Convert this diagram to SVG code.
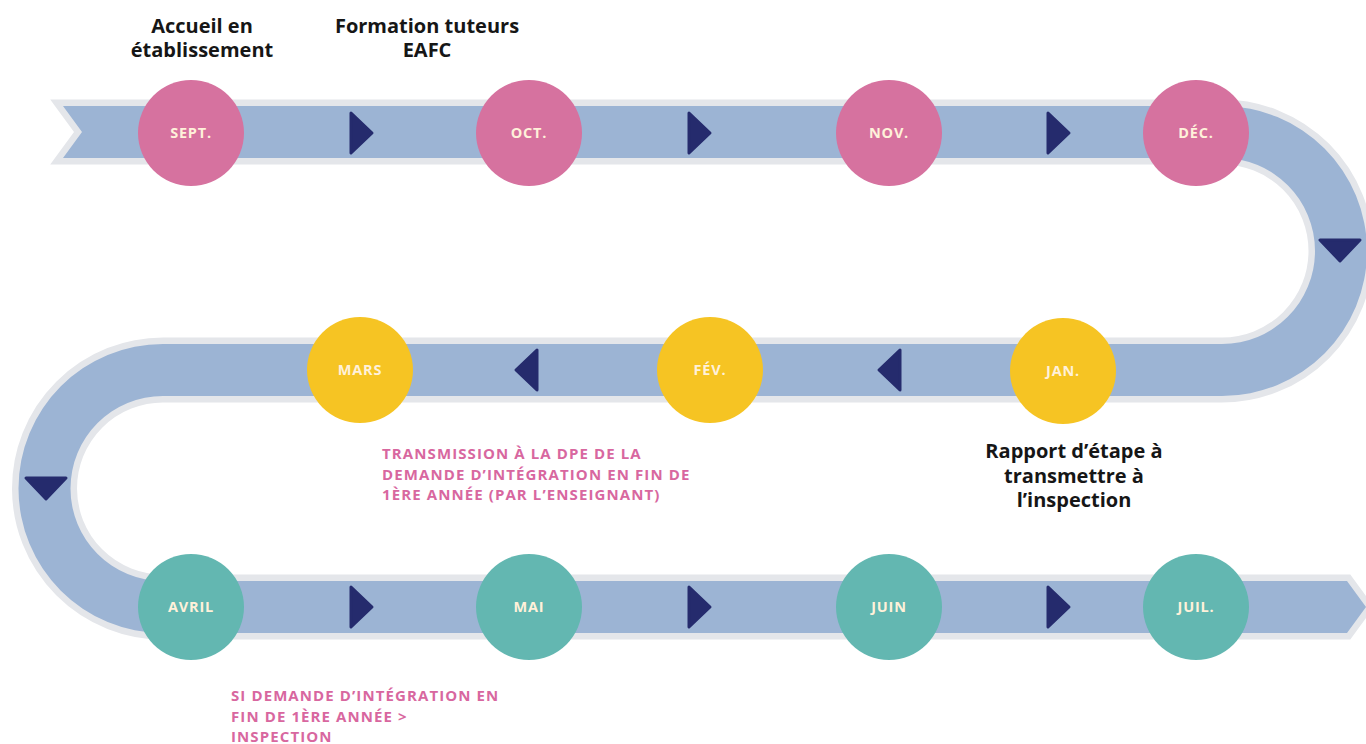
<svg xmlns="http://www.w3.org/2000/svg" xmlns:xlink="http://www.w3.org/1999/xlink" width="1366" height="744" viewBox="0 0 1366 744">
<defs>
<style>
.band{fill:#9CB4D4;stroke:#E4E6EA;stroke-width:13;stroke-linejoin:miter;paint-order:stroke}
.tri{fill:#252B6D;stroke:#252B6D;stroke-width:3;stroke-linejoin:round}
.pink{fill:#D6729F}.yellow{fill:#F6C423}.teal{fill:#63B7B1}
.m{font-family:"Open Sans","Liberation Sans",sans-serif;font-weight:700;font-size:14.5px;letter-spacing:0.8px;fill:#FFF1DA;text-anchor:middle}
.lbl{font-family:"Open Sans","Liberation Sans",sans-serif;font-weight:700;font-size:20px;fill:#161616;text-anchor:middle}
.note{font-family:"Open Sans","Liberation Sans",sans-serif;font-weight:700;font-size:15px;letter-spacing:1.1px;fill:#D8679F}
</style>
<path id="tri" class="tri" d="M-10,-20 L11,0 L-10,20 Z"/>
</defs>
<rect width="1366" height="744" fill="#FFFFFF"/>
<g id="connectors">
<path id="band" class="band" d="M63,106 L1222,106 A145,145 0 0 1 1222,396 L163,396 A92.5,92.5 0 0 0 163,581 L1347,581 L1366,607 L1347,633 L163,633 A144.5,144.5 0 0 1 163,344 L1222,344 A93,93 0 0 0 1222,158 L63,158 L82,132 Z"/>
<use xlink:href="#tri" href="#tri" transform="translate(361,133)"/>
<use xlink:href="#tri" href="#tri" transform="translate(699,133)"/>
<use xlink:href="#tri" href="#tri" transform="translate(1058,133)"/>
<use xlink:href="#tri" href="#tri" transform="translate(1340,250) rotate(90)"/>
<use xlink:href="#tri" href="#tri" transform="translate(890,370) rotate(180)"/>
<use xlink:href="#tri" href="#tri" transform="translate(527,370) rotate(180)"/>
<use xlink:href="#tri" href="#tri" transform="translate(46,488) rotate(90)"/>
<use xlink:href="#tri" href="#tri" transform="translate(361,607)"/>
<use xlink:href="#tri" href="#tri" transform="translate(699,607)"/>
<use xlink:href="#tri" href="#tri" transform="translate(1058,607)"/>
</g>
<g id="sept"><circle class="pink" cx="191" cy="133" r="53"/><text class="m" x="191" y="138">SEPT.</text></g>
<g id="oct"><circle class="pink" cx="529" cy="133" r="53"/><text class="m" x="529" y="138">OCT.</text></g>
<g id="nov"><circle class="pink" cx="889" cy="133" r="53"/><text class="m" x="889" y="138">NOV.</text></g>
<g id="dec"><circle class="pink" cx="1196" cy="133" r="53"/><text class="m" x="1196" y="138">DÉC.</text></g>
<g id="jan"><circle class="yellow" cx="1063" cy="371" r="53"/><text class="m" x="1063" y="376">JAN.</text></g>
<g id="fev"><circle class="yellow" cx="710" cy="370" r="53"/><text class="m" x="710" y="375">FÉV.</text></g>
<g id="mars"><circle class="yellow" cx="360" cy="370" r="53"/><text class="m" x="360" y="375">MARS</text></g>
<g id="avril"><circle class="teal" cx="191" cy="607" r="53"/><text class="m" x="191" y="612">AVRIL</text></g>
<g id="mai"><circle class="teal" cx="529" cy="607" r="53"/><text class="m" x="529" y="612">MAI</text></g>
<g id="juin"><circle class="teal" cx="889" cy="607" r="53"/><text class="m" x="889" y="612">JUIN</text></g>
<g id="juil"><circle class="teal" cx="1196" cy="607" r="53"/><text class="m" x="1196" y="612">JUIL.</text></g>
<g id="label-accueil"><text class="lbl" x="202" y="32.5">Accueil en</text><text class="lbl" x="202" y="57">établissement</text></g>
<g id="label-formation"><text class="lbl" x="427" y="32.5">Formation tuteurs</text><text class="lbl" x="427" y="57">EAFC</text></g>
<g id="label-rapport"><text class="lbl" x="1074" y="458">Rapport d’étape à</text><text class="lbl" x="1074" y="482.5">transmettre à</text><text class="lbl" x="1074" y="507">l’inspection</text></g>
<g id="note-transmission"><text class="note" x="382" y="459">TRANSMISSION À LA DPE DE LA</text><text class="note" x="382" y="479.5">DEMANDE D’INTÉGRATION EN FIN DE</text><text class="note" x="382" y="500">1ÈRE ANNÉE (PAR L’ENSEIGNANT)</text></g>
<g id="note-inspection"><text class="note" x="231" y="701">SI DEMANDE D’INTÉGRATION EN</text><text class="note" x="231" y="721.5">FIN DE 1ÈRE ANNÉE &gt;</text><text class="note" x="231" y="742">INSPECTION</text></g>
</svg>
